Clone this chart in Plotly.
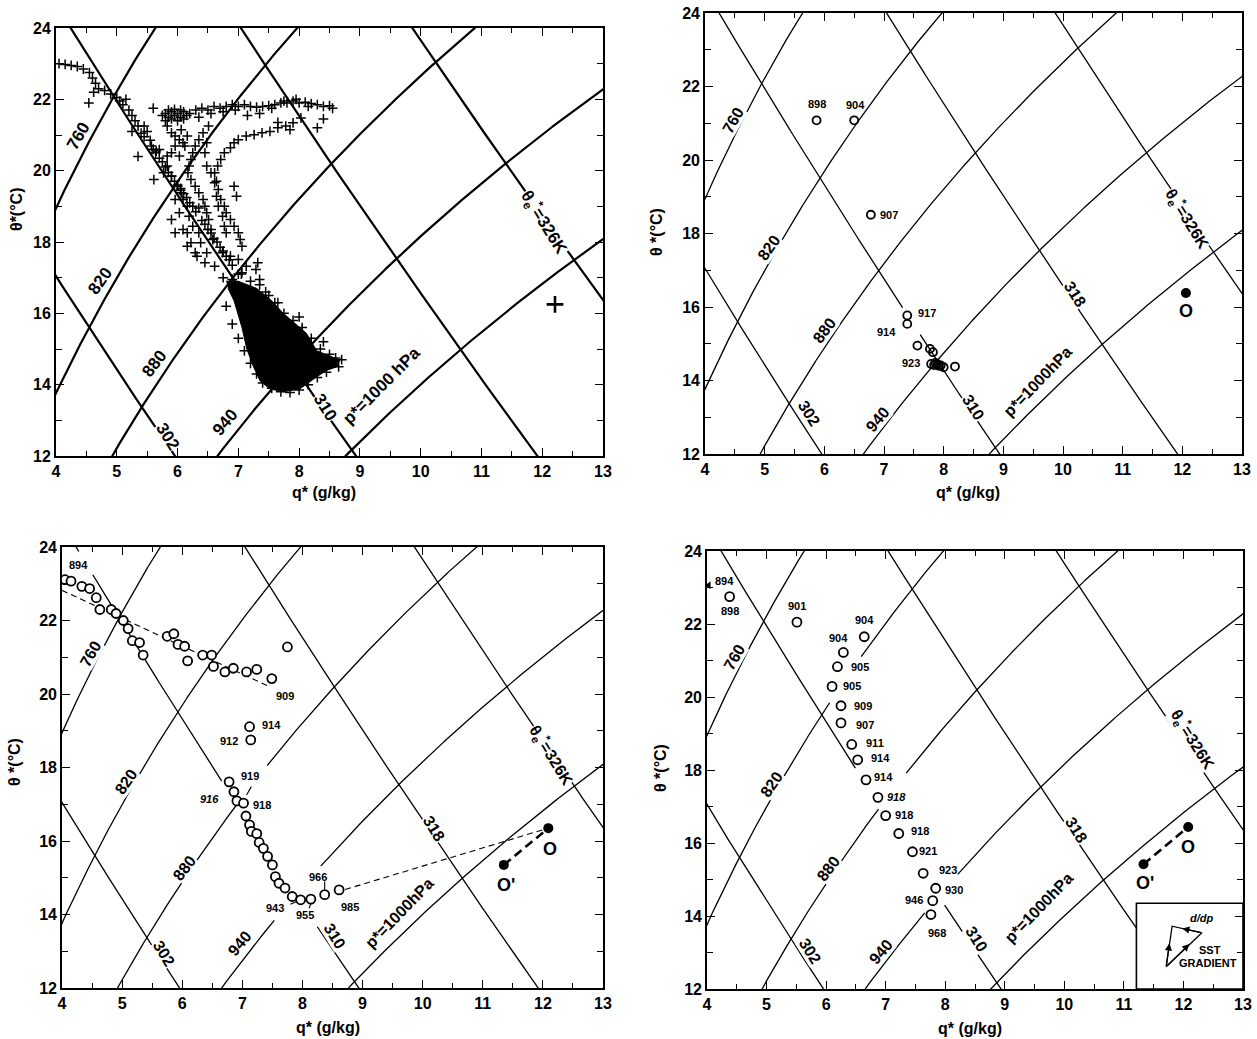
import numpy as np
import plotly.graph_objects as go

# ---------------- data ----------------
Q_RANGE = [4, 13]
TH_RANGE = [12, 24]
isobar_levels = [760, 820, 880, 940, 1000]
thetae_levels = [302, 310, 318, 326]

# panel (a): aircraft saturation points (crosses)
a1_q = [4.05,4.15,4.25,4.35,4.45,4.55,4.6,4.65,4.7,4.62,4.54,4.8,4.9,5.0,5.05,5.1,5.2,5.25,5.3,5.35,5.25,5.4,5.45,5.5,5.35,5.55,5.6,5.7,5.65,5.8,5.9,5.85,6.0,6.1,6.05,6.2,6.3,6.25,6.4,6.5,6.45,6.6,6.7,6.65,6.8,6.9,6.85,7.0,5.15,5.45,5.75,6.15,6.35,6.55,6.75,5.95,6.05]
a1_th = [23.0,22.98,22.95,22.92,22.85,22.75,22.6,22.45,22.3,22.2,21.9,22.25,22.15,22.05,21.95,21.85,21.7,21.55,21.4,21.25,21.1,21.05,21.25,21.1,20.4,20.85,20.6,20.35,20.55,20.1,19.85,19.95,19.6,19.35,19.5,19.1,18.85,19.0,18.6,18.35,18.5,18.1,17.85,18.0,17.6,17.35,17.5,17.1,22.0,20.95,20.25,19.25,18.95,18.25,17.75,19.7,19.45]
a2_q = [5.75,5.8,5.85,5.9,5.95,6.0,6.05,6.1,6.15,6.2,5.8,5.9,6.0,6.1,5.85,5.95,6.05,6.3,6.4,6.5,6.6,6.7,6.8,6.9,7.0,7.1,7.2,7.3,7.4,7.5,7.6,7.7,7.8,7.9,8.0,8.1,8.2,8.3,8.4,8.5,8.55,6.35,6.55,6.75,6.95,7.15,7.35,7.55,7.75,7.95,8.15,5.6]
a2_th = [21.55,21.6,21.5,21.65,21.55,21.6,21.5,21.65,21.55,21.6,21.4,21.45,21.4,21.45,21.7,21.72,21.7,21.7,21.75,21.7,21.8,21.75,21.8,21.85,21.8,21.85,21.8,21.78,21.8,21.82,21.85,21.9,21.9,21.95,21.9,21.92,21.88,21.85,21.8,21.82,21.75,21.5,21.6,21.65,21.7,21.55,21.6,21.75,21.95,22.0,21.8,21.75]
a3_q = [8.3,8.4,8.03,7.9,7.78,7.65,7.52,7.39,7.26,7.13,7.0,6.93,6.87,6.77,6.71,6.66,6.61,6.64,6.67,6.71,6.77,6.8,6.87,6.93,7.0,7.03,7.06,6.93,6.97,7.65,7.85]
a3_th = [21.2,21.45,21.48,21.34,21.25,21.2,21.1,21.06,21.01,20.97,20.87,20.78,20.64,20.5,20.31,20.13,19.94,19.7,19.47,19.19,19.0,18.82,18.63,18.44,18.26,18.07,17.88,19.56,19.28,21.35,21.15]
a4_q = [6.51,6.42,6.35,6.29,6.25,6.22,6.19,6.17,6.22,6.29,6.35,6.42,6.45,6.48,6.51,6.55,6.58,6.48,6.45,6.48,6.55,6.61,6.64,6.67,6.74,6.77,6.8]
a4_th = [21.25,21.06,20.87,20.69,20.5,20.31,20.13,19.94,19.75,19.56,19.38,19.19,19.0,18.82,18.63,18.35,18.07,20.78,20.5,20.13,19.94,19.66,19.28,19.0,18.72,18.44,18.26]
a5_q = [5.83,5.9,5.96,6.03,6.09,5.96,5.9,5.83,5.7,5.64,5.57,6.03,6.12,6.16,6.06,5.83,5.77,5.9,6.0,6.06,6.09,6.16,5.96,6.03,6.19,6.25,6.16,6.35,6.22,6.38,6.48,6.32,6.45,6.61,6.74,6.87,7.0,7.13,7.29,7.32,7.06,5.61,5.9,6.09,5.96,6.16,6.29]
a5_th = [21.25,21.06,20.97,20.87,20.78,20.69,20.5,20.41,20.59,20.5,20.69,20.41,20.69,20.97,21.15,20.13,19.94,19.84,19.56,19.38,19.19,19.0,19.19,18.82,18.72,18.44,18.26,18.26,17.98,17.98,17.7,17.6,17.42,17.32,17.7,17.6,17.51,17.32,17.23,17.42,17.14,19.75,18.63,18.35,18.26,17.88,17.7]
a6_q = [6.75,6.9,7.05,7.2,7.35,7.45,7.6,7.75,7.9,8.05,8.2,8.35,8.5,8.6,8.7,8.65,8.45,8.3,8.15,8.0,7.85,7.7,7.55,7.4,7.3,7.2,7.1,7.0,6.9,6.8,7.5,7.65,7.35,8.0,8.4,7.95,6.95,7.15]
a6_th = [17.0,16.95,17.1,16.9,16.8,16.6,16.3,16.0,15.8,15.6,15.3,15.0,14.85,14.75,14.7,14.5,14.35,14.2,14.0,13.85,13.78,13.8,13.9,14.05,14.3,14.6,14.95,15.3,15.7,16.2,16.5,16.3,16.95,15.9,15.2,15.55,16.7,16.45]
blob_q = [6.8,7.0,7.3,7.55,7.74,7.95,8.12,8.29,8.5,8.67,8.62,8.45,8.29,8.01,7.74,7.52,7.36,7.25,7.14,7.06,6.93,6.83]
blob_th = [16.9,16.9,16.7,16.35,16.0,15.7,15.44,14.95,14.8,14.69,14.5,14.4,14.22,13.88,13.8,13.88,14.1,14.5,15.0,15.6,16.35,16.7]
a_sfc_q = [12.21]
a_sfc_th = [16.25]

# panel (b)
b_q = [5.87,6.50,6.78,7.39,7.39,7.56,7.77,7.82,7.79,7.89,7.95,8.0,8.19,7.84,7.92,7.86]
b_th = [21.08,21.08,18.51,15.77,15.54,14.95,14.86,14.77,14.45,14.45,14.41,14.36,14.38,14.42,14.40,14.48]
b_lab = ["898", "904", "907", "917", "914", "923"]
b_lab_q = [5.88, 6.52, 7.08, 7.72, 7.04, 7.45]
b_lab_th = [21.52, 21.50, 18.51, 15.84, 15.32, 14.47]
b_O = [12.06, 16.38]

# panel (c)
c_q = [4.05,4.15,4.33,4.46,4.57,4.63,4.82,4.90,5.02,5.10,5.17,5.29,5.35,5.75,5.86,5.93,6.04,6.09,6.34,6.49,6.52,6.71,6.85,7.07,7.24,7.49,7.75,
       7.12,7.14,6.78,6.86,6.91,7.02,7.06,7.12,7.15,7.24,7.28,7.35,7.42,7.50,7.55,7.61,7.71,7.83,7.97,8.14,8.37,8.61]
c_th = [23.11,23.07,22.93,22.87,22.62,22.30,22.30,22.19,22.00,21.78,21.45,21.40,21.06,21.57,21.64,21.35,21.30,20.90,21.06,21.06,20.75,20.60,20.70,20.60,20.67,20.42,21.28,
        19.11,18.75,17.61,17.34,17.09,17.03,16.68,16.44,16.26,16.20,15.96,15.80,15.58,15.35,15.03,14.85,14.72,14.49,14.40,14.42,14.54,14.67]
c_lab = ["894", "909", "914", "912", "919", "<i>916</i>", "918", "943", "955", "966", "985"]
c_lab_q = [4.27, 7.71, 7.48, 6.78, 7.13, 6.46, 7.33, 7.55, 8.04, 8.26, 8.79]
c_lab_th = [23.52, 19.95, 19.17, 18.72, 17.77, 17.13, 16.98, 14.17, 13.99, 15.01, 14.20]
c_fit_q = [4.0, 7.45]
c_fit_th = [22.82, 20.20]
c_link_q = [8.71, 12.09]
c_link_th = [14.68, 16.35]
c_O = [12.09, 16.35]
c_Op = [11.35, 15.35]
c_leader_q = [[7.15, 7.07], [8.37, 8.37], [7.80, 7.92], [8.11, 8.15]]
c_leader_th = [[17.48, 17.25], [14.90, 14.68], [14.28, 14.37], [14.17, 14.32]]

# panel (d)
d_q = [4.38,5.51,6.64,6.29,6.19,6.10,6.25,6.25,6.43,6.53,6.67,6.87,7.00,7.22,7.45,7.63,7.84,7.79,7.76]
d_th = [22.75,22.05,21.65,21.22,20.83,20.29,19.76,19.29,18.70,18.28,17.73,17.25,16.75,16.26,15.76,15.17,14.76,14.42,14.04]
d_lab = ["894", "898", "901", "904", "904", "905", "905", "909", "907", "911", "914", "914", "<i>918</i>", "918", "918", "921", "923", "930", "946", "968"]
d_lab_q = [4.29, 4.39, 5.51, 6.64, 6.21, 6.57, 6.44, 6.62, 6.65, 6.82, 6.92, 6.97, 7.18, 7.31, 7.57, 7.71, 8.05, 8.15, 7.48, 7.87]
d_lab_th = [23.18, 22.35, 22.48, 22.10, 21.63, 20.81, 20.29, 19.76, 19.24, 18.73, 18.34, 17.80, 17.27, 16.77, 16.32, 15.78, 15.26, 14.72, 14.44, 13.54]
d_894 = [4.03, 23.06]
d_O = [12.08, 16.44]
d_Op = [11.33, 15.42]
inset_q = [11.21, 13.0, 13.0, 11.21, 11.21]
inset_th = [12.0, 12.0, 14.35, 14.35, 12.0]
tri_q = [11.71, 11.81, 12.31, 11.71]
tri_th = [12.61, 13.72, 13.54, 12.61]

# background-line label positions: (text, q, theta, angle)
line_labels = {
    1: [("760", 4.36, 20.97, -60), ("820", 4.72, 16.9, -55), ("880", 5.62, 14.6, -53), ("940", 6.78, 12.94, -50),
        ("302", 5.84, 12.56, 58), ("310", 8.43, 13.36, 58), ("p*=1000 hPa", 9.36, 13.98, -45),
        ("θ<sub>e</sub><sup>*</sup>=326K", 12.03, 18.54, 58)],
    2: [("760", 4.47, 21.07, -60), ("820", 5.07, 17.63, -55), ("880", 6.0, 15.36, -53), ("940", 6.89, 12.95, -50),
        ("302", 5.74, 13.09, 58), ("310", 8.5, 13.27, 58), ("318", 10.2, 16.33, 58), ("p*=1000hPa", 9.58, 13.96, -46),
        ("θ<sub>e</sub><sup>*</sup>=326K", 12.09, 18.4, 58)],
    3: [("760", 4.48, 21.1, -60), ("820", 5.07, 17.61, -55), ("880", 6.03, 15.26, -53), ("940", 6.95, 13.22, -50),
        ("302", 5.7, 12.95, 58), ("310", 8.54, 13.4, 58), ("318", 10.19, 16.35, 58), ("p*=1000hPa", 9.6, 14.04, -46),
        ("θ<sub>e</sub><sup>*</sup>=326K", 12.14, 18.34, 58)],
    4: [("760", 4.47, 21.1, -60), ("820", 5.08, 17.61, -55), ("880", 6.04, 15.3, -53), ("940", 6.92, 13.04, -50),
        ("302", 5.74, 13.04, 58), ("310", 8.53, 13.36, 58), ("318", 10.21, 16.35, 58), ("p*=1000hPa", 9.58, 14.22, -46),
        ("θ<sub>e</sub><sup>*</sup>=326K", 12.15, 18.84, 58)],
}

# gaps in background lines (theta ranges hidden), per panel
isobar_gaps = {2: {}, 1: {}, 3: {880: [(17.0, 18.04)], 940: [(13.86, 15.3)]},
               4: {880: [(16.93, 17.91)], 820: [(19.85, 21.1)], 940: [(14.1, 15.14)]}}
thetae_gaps = {1: {}, 2: {310: [(15.25, 15.95)]}, 3: {310: [(13.7, 17.6), (23.25, 23.85)]},
               4: {310: [(14.3, 18.04)]}}

# ---------------- thermodynamics for background curves ----------------
KAPPA = 0.2857


def es(tc):
    return 6.112 * np.exp(17.67 * tc / (tc + 243.5))


def q_iso(p, th):
    t = (th + 273.15) * (p / 1000.0) ** KAPPA - 273.15
    e = es(t)
    return 622.0 * e / (p - 0.378 * e)


def p_star(q, th):
    lo = np.full_like(th, 300.0)
    hi = np.full_like(th, 1500.0)
    for _ in range(50):
        mid = 0.5 * (lo + hi)
        f = q_iso(mid, th) - q
        hi = np.where(f > 0, mid, hi)
        lo = np.where(f > 0, lo, mid)
    return 0.5 * (lo + hi)


def theta_e(q, th):
    p = p_star(q, th)
    t = (th + 273.15) * (p / 1000.0) ** KAPPA
    return (th + 273.15) * np.exp((3.376 / t - 0.00254) * q * (1 + 0.81e-3 * q))


def q_thetae(level, th):
    lo = np.full_like(th, 0.2)
    hi = np.full_like(th, 40.0)
    for _ in range(45):
        mid = 0.5 * (lo + hi)
        f = theta_e(mid, th) - level
        hi = np.where(f > 0, mid, hi)
        lo = np.where(f > 0, lo, mid)
    return 0.5 * (lo + hi)


TH_GRID = np.linspace(11.0, 25.0, 400)


def masked(th, q, gaps):
    q = q.copy()
    for lo, hi in gaps:
        q[(th > lo) & (th < hi)] = np.nan
    return q


iso_curves = {p: q_iso(p, TH_GRID) for p in isobar_levels}
te_curves = {t: q_thetae(t, TH_GRID) for t in thetae_levels}

# ---------------- figure ----------------
fig = go.Figure()
W, H = 1257, 1039
boxes = {1: (56, 603, 28, 456), 2: (705, 1242, 13, 454), 3: (62, 603, 547, 988), 4: (707, 1243, 551, 989)}
FONT = "Liberation Sans"


def ax(k):
    return ("x" if k == 1 else f"x{k}"), ("y" if k == 1 else f"y{k}")


for k in (1, 2, 3, 4):
    xr, yr = ax(k)
    lw = 2.2 if k == 1 else 1.3
    for p in isobar_levels:
        qq = masked(TH_GRID, iso_curves[p], isobar_gaps[k].get(p, []))
        fig.add_trace(go.Scatter(x=qq, y=TH_GRID, mode="lines", line=dict(color="black", width=lw),
                                 xaxis=xr, yaxis=yr, hoverinfo="skip", connectgaps=False))
    for t in thetae_levels:
        qq = masked(TH_GRID, te_curves[t], thetae_gaps[k].get(t, []))
        fig.add_trace(go.Scatter(x=qq, y=TH_GRID, mode="lines", line=dict(color="black", width=lw),
                                 xaxis=xr, yaxis=yr, hoverinfo="skip", connectgaps=False))

# panel a
fig.add_trace(go.Scatter(x=blob_q, y=blob_th, mode="lines", fill="toself", fillcolor="black",
                         line=dict(color="black", width=1), xaxis="x", yaxis="y", hoverinfo="skip"))
for qa, ta in [(a1_q, a1_th), (a2_q, a2_th), (a3_q, a3_th), (a4_q, a4_th), (a5_q, a5_th), (a6_q, a6_th)]:
    fig.add_trace(go.Scatter(x=qa, y=ta, mode="markers", xaxis="x", yaxis="y",
                             marker=dict(symbol="cross-thin", size=7, color="black",
                                         line=dict(color="black", width=1.5))))
fig.add_trace(go.Scatter(x=a_sfc_q, y=a_sfc_th, mode="markers", xaxis="x", yaxis="y",
                         marker=dict(symbol="cross-thin", size=12, color="black", line=dict(color="black", width=2.6))))

# panel b
fig.add_trace(go.Scatter(x=b_q, y=b_th, mode="markers", xaxis="x2", yaxis="y2",
                         marker=dict(symbol="circle-open", size=8, color="black", line=dict(width=1.8))))
fig.add_trace(go.Scatter(x=[b_O[0]], y=[b_O[1]], mode="markers", xaxis="x2", yaxis="y2",
                         marker=dict(symbol="circle", size=10, color="black")))

# panel c
fig.add_trace(go.Scatter(x=c_fit_q, y=c_fit_th, mode="lines", xaxis="x3", yaxis="y3",
                         line=dict(color="black", width=1.1, dash="6px,4px")))
fig.add_trace(go.Scatter(x=c_link_q, y=c_link_th, mode="lines", xaxis="x3", yaxis="y3",
                         line=dict(color="black", width=1.1, dash="6px,4px")))
for lq, lt in zip(c_leader_q, c_leader_th):
    fig.add_trace(go.Scatter(x=lq, y=lt, mode="lines", xaxis="x3", yaxis="y3",
                             line=dict(color="black", width=1.1)))
fig.add_trace(go.Scatter(x=c_q, y=c_th, mode="markers", xaxis="x3", yaxis="y3",
                         marker=dict(symbol="circle", size=9, color="white", line=dict(color="black", width=1.8))))
fig.add_trace(go.Scatter(x=[c_Op[0], c_O[0]], y=[c_Op[1], c_O[1]], mode="lines+markers", xaxis="x3", yaxis="y3",
                         line=dict(color="black", width=2.6, dash="9px,5px"),
                         marker=dict(symbol="circle", size=10, color="black")))

# panel d
fig.add_trace(go.Scatter(x=inset_q, y=inset_th, mode="lines", fill="toself", fillcolor="white",
                         line=dict(color="black", width=1.6), xaxis="x4", yaxis="y4", hoverinfo="skip"))
fig.add_trace(go.Scatter(x=tri_q, y=tri_th, mode="lines", line=dict(color="black", width=1.3),
                         xaxis="x4", yaxis="y4", hoverinfo="skip"))
fig.add_trace(go.Scatter(x=d_q, y=d_th, mode="markers", xaxis="x4", yaxis="y4",
                         marker=dict(symbol="circle-open", size=9, color="black", line=dict(width=1.8))))
fig.add_trace(go.Scatter(x=[d_894[0]], y=[d_894[1]], mode="markers", xaxis="x4", yaxis="y4",
                         marker=dict(symbol="triangle-left", size=7, color="black")))
fig.add_trace(go.Scatter(x=[d_Op[0], d_O[0]], y=[d_Op[1], d_O[1]], mode="lines+markers", xaxis="x4", yaxis="y4",
                         line=dict(color="black", width=2.6, dash="9px,5px"),
                         marker=dict(symbol="circle", size=10, color="black")))

# axes
layout_axes = {}
for k in (1, 2, 3, 4):
    x0, x1, y0, y1 = boxes[k]
    xr, yr = ax(k)
    xname = "xaxis" if k == 1 else f"xaxis{k}"
    yname = "yaxis" if k == 1 else f"yaxis{k}"
    lw = 2.0 if k == 1 else 1.6
    common = dict(showgrid=False, zeroline=False, showline=True, linecolor="black", linewidth=lw,
                  mirror="ticks", ticks="inside", ticklen=8, tickwidth=1.4, tickcolor="black",
                  tickfont=dict(family=FONT, size=16, color="black", weight="bold"),
                  fixedrange=True, automargin=False)
    layout_axes[xname] = dict(common, range=Q_RANGE, domain=[x0 / W, x1 / W], anchor=yr, tick0=4, dtick=1,
                              minor=dict(dtick=0.5, ticks="inside", ticklen=5, tickwidth=1.2, tickcolor="black",
                                         showgrid=False))
    layout_axes[yname] = dict(common, range=TH_RANGE, domain=[1 - y1 / H, 1 - y0 / H], anchor=xr, tick0=12, dtick=2,
                              minor=dict(dtick=1, ticks="inside", ticklen=6, tickwidth=1.2, tickcolor="black",
                                         showgrid=False))

annotations = []


def add_text(k, text, x, y, size=11, angle=0, bg=None, bold=True):
    xr, yr = ax(k)
    annotations.append(dict(x=x, y=y, xref=xr, yref=yr, text=("<b>%s</b>" % text) if bold else text,
                            showarrow=False, textangle=angle, bgcolor=bg, xanchor="center", yanchor="middle",
                            font=dict(family=FONT, size=size, color="black"), borderpad=0))


for k, labs in line_labels.items():
    for text, x, y, ang in labs:
        add_text(k, text, x, y, size=17 if k == 1 else 16, angle=ang, bg="white")

for t, x, y in zip(b_lab, b_lab_q, b_lab_th):
    add_text(2, t, x, y, size=11)
add_text(2, "O", b_O[0], b_O[1] - 0.5, size=18)

for t, x, y in zip(c_lab, c_lab_q, c_lab_th):
    add_text(3, t, x, y, size=11)
add_text(3, "O", c_O[0] + 0.02, c_O[1] - 0.57, size=18)
add_text(3, "O'", c_Op[0] + 0.03, c_Op[1] - 0.55, size=18)

for t, x, y in zip(d_lab, d_lab_q, d_lab_th):
    add_text(4, t, x, y, size=11)
add_text(4, "O", d_O[0], d_O[1] - 0.55, size=18)
add_text(4, "O'", d_Op[0] + 0.02, d_Op[1] - 0.52, size=18)
add_text(4, "<i>d/dp</i>", 12.3, 13.95, size=11)
add_text(4, "SST", 12.44, 13.08, size=11)
add_text(4, "GRADIENT", 12.42, 12.7, size=11)

# inset arrows (arrowheads along the triangle sides)
for (tx, ty, hx, hy) in [(tri_q[0], tri_th[0], 11.765, 13.25), (tri_q[2], tri_th[2], 11.98, 13.66),
                         (tri_q[0], tri_th[0], 12.1, 13.23)]:
    annotations.append(dict(x=hx, y=hy, ax=tx, ay=ty, xref="x4", yref="y4", axref="x4", ayref="y4",
                            showarrow=True, arrowhead=2, arrowsize=1.1, arrowwidth=1.3, arrowcolor="black", text=""))

# axis titles
xtitle_y = {1: 492, 2: 492, 3: 1027, 4: 1028}
for k in (1, 2, 3, 4):
    x0, x1, y0, y1 = boxes[k]
    annotations.append(dict(x=((x0 + x1) / 2 - 5) / W, y=1 - xtitle_y[k] / H, xref="paper", yref="paper",
                            xanchor="center", yanchor="middle",
                            text="<b>q* (g/kg)</b>", showarrow=False,
                            font=dict(family=FONT, size=16, color="black")))
ytitle_pos = {1: (16, 210, "θ*(°C)"), 2: (657, 232, "θ *(°C)"), 3: (14, 762, "θ *(°C)"), 4: (660, 768, "θ *(°C)")}
for k, (px, py, t) in ytitle_pos.items():
    annotations.append(dict(x=px / W, y=1 - py / H, xref="paper", yref="paper", text="<b>%s</b>" % t,
                            xanchor="center", yanchor="middle",
                            showarrow=False, textangle=-90, font=dict(family=FONT, size=16, color="black")))

fig.update_layout(width=W, height=H, margin=dict(l=0, r=0, t=0, b=0), paper_bgcolor="white",
                  plot_bgcolor="white", showlegend=False, annotations=annotations, **layout_axes)

fig.write_html("out.html")
